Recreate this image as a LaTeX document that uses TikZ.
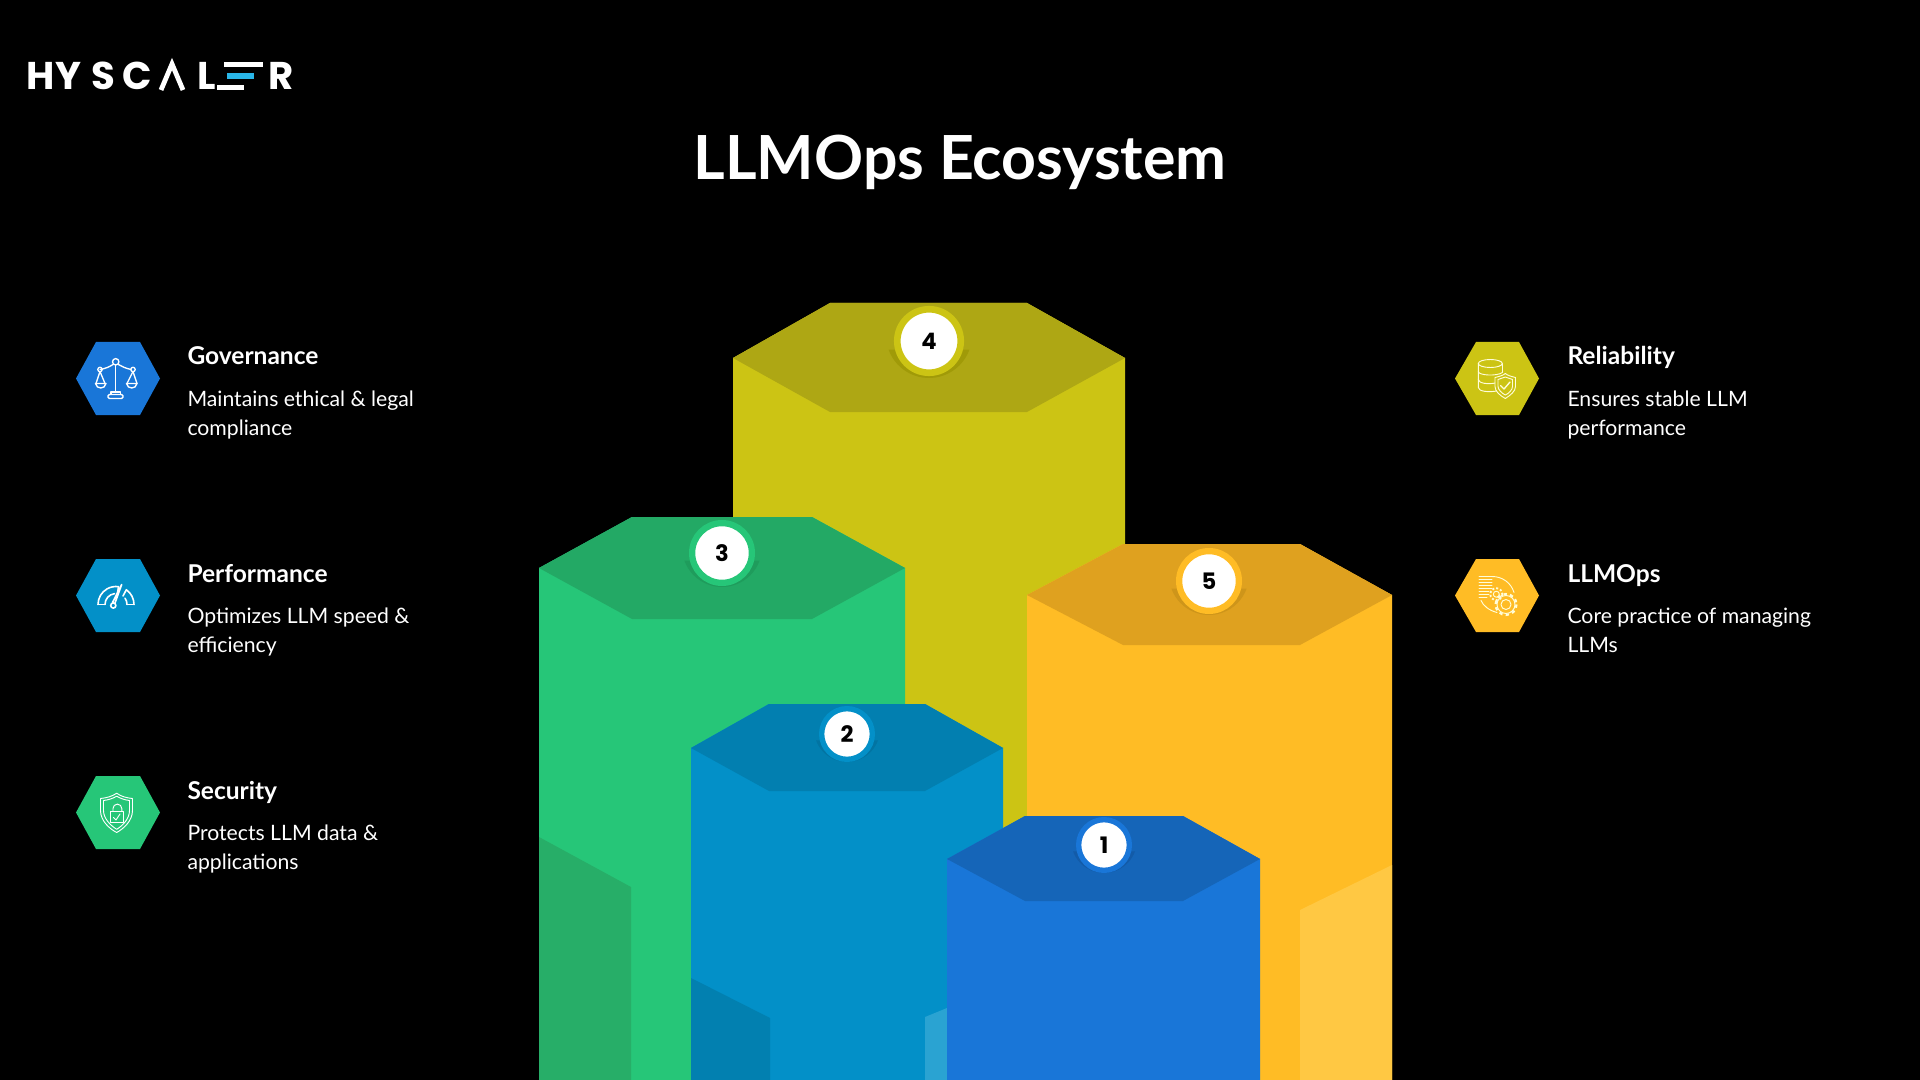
\documentclass[tikz,border=0pt]{standalone}
\usepackage{fontspec}
\setmainfont{Lato}
\newfontfamily\logofont{Poppins}
\definecolor{oliveside}{HTML}{CCC414}
\definecolor{olivetop}{HTML}{AEA714}
\definecolor{oliveshade}{HTML}{A09A08}
\definecolor{greenside}{HTML}{26C678}
\definecolor{greentop}{HTML}{23A965}
\definecolor{greenshade}{HTML}{27AE68}
\definecolor{greendark}{HTML}{1F9C5C}
\definecolor{cyanside}{HTML}{0390C8}
\definecolor{cyantop}{HTML}{027FB0}
\definecolor{cyanshade}{HTML}{0280B0}
\definecolor{cyandark}{HTML}{0274A2}
\definecolor{cyanlight}{HTML}{2AA3D2}
\definecolor{blueside}{HTML}{1976D8}
\definecolor{bluetop}{HTML}{1565B8}
\definecolor{bluedark}{HTML}{135BA8}
\definecolor{orangeside}{HTML}{FFBC25}
\definecolor{orangetop}{HTML}{DFA11F}
\definecolor{orangeshade}{HTML}{CE951A}
\definecolor{orangelight}{HTML}{FFC843}
\definecolor{logocyan}{HTML}{29B6E8}
\tikzset{every picture/.style={line width=0.75pt},
  titletext/.style={anchor=base,inner sep=0pt,text=white,font=\fontsize{45.6}{50}\selectfont\bfseries},
  headtext/.style={anchor=base west,inner sep=0pt,text=white,font=\fontsize{18.4}{22}\selectfont\bfseries},
  bodytext/.style={anchor=north west,inner sep=0pt,text=white,align=left,font=\fontsize{15.9}{21.75}\selectfont},
  logotext/.style={anchor=base,inner sep=0pt,text=white,font=\logofont\fontsize{29}{30}\selectfont\bfseries},
  badge/.style={circle,inner sep=0pt,outer sep=0pt,fill=white,text=black,font=\logofont\fontsize{17}{20}\selectfont\bfseries},
  bigbadge/.style={badge,minimum size=47.6pt,line width=5pt},
  midbadge/.style={badge,minimum size=44.8pt,line width=4.7pt},
  smallbadge/.style={badge,minimum size=38pt,line width=4pt},
  iconline/.style={draw=white,line width=1pt,line join=round,line cap=round},
  iconthin/.style={draw=white,line width=0.7pt,line join=round,line cap=round},
  iconpale/.style={iconthin,draw=white!85!yellow}
}
\begin{document}
\begin{tikzpicture}[x=0.75pt,y=0.75pt,yscale=-1,xscale=1]
%Shape: Background
\fill [black] (0,0) rectangle (1920,1080);
\useasboundingbox (0,0) rectangle (1920,1080);

%Shape: Tower 4
\fill [oliveside] (733,358) -- (830,303) -- (1027,303) -- (1125,358) -- (1125,1080) -- (733,1080) -- cycle ;
\fill [olivetop] (733,358) -- (830,303) -- (1027,303) -- (1125,358) -- (1027,412) -- (830,412) -- cycle ;
%Shape: Tower 3
\fill [greenside] (539,568) -- (632,517) -- (812,517) -- (905,568) -- (905,1080) -- (539,1080) -- cycle ;
\fill [greentop] (539,568) -- (632,517) -- (812,517) -- (905,568) -- (812,619) -- (632,619) -- cycle ;
\fill [greenshade] (539,837) -- (631,887) -- (631,1080) -- (539,1080) -- cycle ;
%Shape: Tower 5
\fill [orangeside] (1027,595) -- (1123,544) -- (1300,544) -- (1392,595) -- (1392,1080) -- (1027,1080) -- cycle ;
\fill [orangetop] (1027,595) -- (1123,544) -- (1300,544) -- (1392,595) -- (1300,645) -- (1123,645) -- cycle ;
\fill [orangelight] (1392,865) -- (1300,910) -- (1300,1080) -- (1392,1080) -- cycle ;
%Shape: Tower 2
\fill [cyanside] (691,748) -- (769,704) -- (925,704) -- (1003,748) -- (1003,1080) -- (691,1080) -- cycle ;
\fill [cyantop] (691,748) -- (769,704) -- (925,704) -- (1003,748) -- (925,791) -- (769,791) -- cycle ;
\fill [cyanshade] (691,978) -- (770,1018) -- (770,1080) -- (691,1080) -- cycle ;
\fill [cyanlight] (947,1008) -- (925,1017) -- (925,1080) -- (947,1080) -- cycle ;
%Shape: Tower 1
\fill [blueside] (947,859) -- (1025,816) -- (1183,816) -- (1260,859) -- (1260,1080) -- (947,1080) -- cycle ;
\fill [bluetop] (947,859) -- (1025,816) -- (1183,816) -- (1260,859) -- (1183,901) -- (1025,901) -- cycle ;

%Shape: Crescent 4
\fill [oliveshade] (929,335) ++(160:43) arc [start angle=160,end angle=20,radius=43] -- cycle ;
%Shape: Crescent 3
\fill [greendark] (722,547) ++(160:40) arc [start angle=160,end angle=20,radius=40] -- cycle ;
%Shape: Crescent 5
\fill [orangeshade] (1209,575) ++(160:40) arc [start angle=160,end angle=20,radius=40] -- cycle ;
%Shape: Crescent 2
\fill [cyandark] (847,729) ++(160:33) arc [start angle=160,end angle=20,radius=33] -- cycle ;
%Shape: Crescent 1
\fill [bluedark] (1104,840) ++(160:33) arc [start angle=160,end angle=20,radius=33] -- cycle ;

% Number Nodes
\node (badgefour) [bigbadge,draw=oliveside] at (929,341) {4};
\node (badgethree) [midbadge,draw=greenside] at (722,553) {3};
\node (badgefive) [midbadge,draw=orangeside] at (1209,581) {5};
\node (badgetwo) [smallbadge,draw=cyanside] at (847,734) {2};
\node (badgeone) [smallbadge,draw=blueside] at (1104,845) {1};

% Text Node
\node (title) [titletext] at (960,180) {LLMOps Ecosystem};

% Logo Nodes
\node (logoh) [logotext] at (40.5,90) {H};
\node (logoy) [logotext] at (68.5,90) {Y};
\node (logos) [logotext] at (103.5,90) {S};
\node (logoc) [logotext] at (137,90) {C};
\node (logol) [logotext] at (207,90) {L};
\node (logor) [logotext] at (281,90) {R};
%Shape: Logo Lambda
\draw [white,line width=3.6pt,line join=miter] (161,90) -- (172,64) -- (183,90) ;
%Shape: Logo Bars
\fill [white] (224,62) rectangle (263,67);
\fill [logocyan] (227,73) rectangle (254,79);
\fill [white] (217,85) rectangle (244,90);

%Shape: Hexagon Governance
\fill [blueside] (76,378.5) -- (96,342) -- (140,342) -- (160,378.5) -- (140,415) -- (96,415) -- cycle ;
%Shape: Hexagon Performance
\fill [cyanside] (76,595.5) -- (96,559) -- (140,559) -- (160,595.5) -- (140,632) -- (96,632) -- cycle ;
%Shape: Hexagon Security
\fill [greenside] (76,812.5) -- (96,776) -- (140,776) -- (160,812.5) -- (140,849) -- (96,849) -- cycle ;
%Shape: Hexagon Reliability
\fill [oliveside] (1455,378.5) -- (1476,342) -- (1519,342) -- (1539,378.5) -- (1519,415) -- (1476,415) -- cycle ;
%Shape: Hexagon LLMOps
\fill [orangeside] (1455,595.5) -- (1476,559) -- (1519,559) -- (1539,595.5) -- (1519,632) -- (1476,632) -- cycle ;

%Shape: Icon Scales
\begin{scope}[shift={(118,378.5)}]
\draw [iconline] (-2.3,-13) -- (-2.3,14) ;
\draw [iconline] (-2.3,-16.7) circle [radius=3.2];
\draw [iconline] (-18,-9) .. controls (-12,-10) and (-8,-12) .. (-5,-14) ;
\draw [iconline] (13,-9) .. controls (8,-10) and (4,-12) .. (0.5,-14) ;
\draw [iconline] (-18,-9) circle [radius=2.2];
\draw [iconline] (15,-9) circle [radius=2.2];
\draw [iconline] (-18,-7) -- (-22,5) ; \draw [iconline] (-18,-7) -- (-13,5) ;
\draw [iconline] (15,-7) -- (9,5) ; \draw [iconline] (15,-7) -- (19,5) ;
\draw [iconline] (-22.5,5) -- (-12,5) .. controls (-13,11) and (-21.5,11) .. (-22.5,5) -- cycle ;
\draw [iconline] (8.5,5) -- (19,5) .. controls (18,11) and (9.5,11) .. (8.5,5) -- cycle ;
\draw [iconline,rounded corners=1pt] (-10,16) rectangle (5,20) ;
\draw [iconline] (-7,16) -- (-7,13.5) -- (2.5,13.5) -- (2.5,16) ;
\end{scope}

%Shape: Icon Gauge
\begin{scope}[shift={(118,595.5)}]
\draw [iconline,line width=1.2pt] (-20,9) arc [start angle=180,end angle=278,radius=18] -- (-0.5,-2) ;
\draw [iconline,line width=1.2pt] (-13,9) arc [start angle=180,end angle=262,radius=11] ;
\draw [iconline,line width=1.2pt] (-20,9) -- (-13,9) ;
\draw [iconline,line width=1.2pt] (16,9) arc [start angle=0,end angle=-55,radius=18] -- (5,0.5) ;
\draw [iconline,line width=1.2pt] (9,9) arc [start angle=0,end angle=-35,radius=11] ;
\draw [iconline,line width=1.2pt] (9,9) -- (16,9) ;
\draw [iconline,line width=1.2pt] (-5.5,7) -- (3.7,-11) -- (-3,7.5) ;
\draw [iconline,line width=1.2pt] (-4.7,10) circle [radius=2.6];
\end{scope}

%Shape: Icon Shield
\begin{scope}[shift={(118,812.5)}]
\draw [iconthin] (-1.3,-19.3) .. controls (-6,-16) and (-12,-14.5) .. (-17.5,-14) -- (-17.5,-2) .. controls (-17.5,8) and (-9,16) .. (-1.3,20) .. controls (6,16) and (14.5,8) .. (14.5,-2) -- (14.5,-14) .. controls (9,-14.5) and (3,-16) .. (-1.3,-19.3) -- cycle ;
\draw [iconthin] (-1.3,-16.3) .. controls (-5,-14) and (-10,-12.5) .. (-14.5,-12) -- (-14.5,-2) .. controls (-14.5,6) and (-7.5,13) .. (-1.3,16.8) .. controls (5,13) and (11.5,6) .. (11.5,-2) -- (11.5,-12) .. controls (7,-12.5) and (2.5,-14) .. (-1.3,-16.3) -- cycle ;
\draw [iconthin] (-7.3,-1) rectangle (5.3,10) ;
\draw [iconthin] (-5,-1) -- (-5,-4) arc [start angle=180,end angle=360,radius=4.4] -- (3.8,-1) ;
\draw [iconthin] (-4.5,5) -- (-2,7.5) -- (2,1.5) ;
\end{scope}

%Shape: Icon Database
\begin{scope}[shift={(1497,378.5)}]
\draw [iconpale] (-6.7,-15) ellipse [x radius=12, y radius=4];
\draw [iconpale] (-18.7,-15) -- (-18.7,9) .. controls (-18.7,13) and (-8,14) .. (-0.5,12.5) ;
\draw [iconpale] (5.3,-15) -- (5.3,-6) ;
\draw [iconpale] (-18.7,-7) .. controls (-18.7,-3) and (0,-2) .. (5.3,-6) ;
\draw [iconpale] (-18.7,1) .. controls (-18.7,5) and (-8,6) .. (-2,4.5) ;
\draw [iconpale] (8.3,-5) .. controls (6,-3) and (2,-2) .. (-2,-1) -- (-2,8) .. controls (-2,13) and (3,17) .. (8.3,20) .. controls (13,17) and (18.5,13) .. (18.5,8) -- (18.5,-1) .. controls (14.5,-2) and (10.5,-3) .. (8.3,-5) -- cycle ;
\draw [iconpale] (1,1) -- (1,8) .. controls (1,11) and (5,15) .. (8.3,16.5) .. controls (12,15) and (15.5,11) .. (15.5,8) -- (15.5,1) -- (8.3,-1.5) -- cycle ;
\draw [iconpale,line width=1pt] (3.5,7) -- (7,10.5) -- (13,3.5) ;
\end{scope}

%Shape: Icon Document Gears
\begin{scope}[shift={(1497,595.5)}]
\draw [iconpale] (-18,-19) -- (-5,-19) ;
\draw [iconpale] (-18,-16) -- (-5,-16) ;
\draw [iconpale] (-18,-13) -- (-5,-13) ;
\draw [iconpale] (-18,-10) -- (-5,-10) ;
\draw [iconpale] (-18,-7) -- (-5,-7) ;
\draw [iconpale] (-18,-4) -- (-8,-4) ;
\draw [iconpale] (-18,-1) -- (-8,-1) ;
\draw [iconpale] (-18,2) -- (-10,2) ;
\draw [iconpale] (-5,-19) .. controls (5,-19) and (14,-13) .. (17,-3) ;
\draw [iconpale] (-16,5) .. controls (-14,10) and (-8,15) .. (0,17) ;
\draw [iconpale] (-0.7,-1.3) circle [radius=3];
\draw [white!85!yellow,line width=1.4pt,dash pattern=on 1.5pt off 1.5pt] (-0.7,-1.3) circle [radius=6];
\draw [iconpale] (9,9) circle [radius=5];
\draw [iconpale] (9,9) circle [radius=9];
\draw [white!85!yellow,line width=1.6pt,dash pattern=on 2.5pt off 2.5pt] (9,9) circle [radius=10.5];
\end{scope}

% Text Node
\node (headgov) [headtext] at (187,365) {Governance};
% Text Node
\node (bodygov) [bodytext] at (187,390.5) {Maintains ethical \& legal\\compliance};
% Text Node
\node (headperf) [headtext] at (187,582) {Performance};
% Text Node
\node (bodyperf) [bodytext] at (187,607.5) {Optimizes LLM speed \&\\efficiency};
% Text Node
\node (headsec) [headtext] at (187,799) {Security};
% Text Node
\node (bodysec) [bodytext] at (187,824.5) {Protects LLM data \&\\applications};
% Text Node
\node (headrel) [headtext] at (1567,365) {Reliability};
% Text Node
\node (bodyrel) [bodytext] at (1567,390.5) {Ensures stable LLM\\performance};
% Text Node
\node (headops) [headtext] at (1567,582) {LLMOps};
% Text Node
\node (bodyops) [bodytext] at (1567,607.5) {Core practice of managing\\LLMs};

\end{tikzpicture}
\end{document}
